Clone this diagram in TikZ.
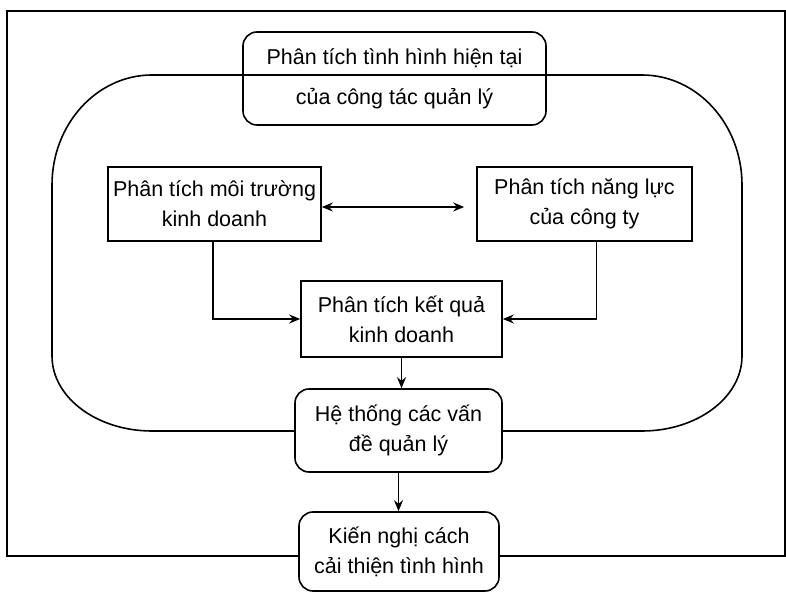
\documentclass[tikz,border=0pt]{standalone}
\usepackage{fontspec}
\setmainfont{Liberation Sans}
\usetikzlibrary{arrows.meta}
\begin{document}
\begin{tikzpicture}[x=1pt,y=1pt,
  line width=1.6pt,
  txt/.style={font=\fontsize{21.5}{30}\selectfont, align=center, inner sep=0pt},
  sqbox/.style={txt, draw, fill=white, minimum width=#1},
  rbox/.style={txt, draw, rounded corners=14pt, minimum width=#1},
  arr/.style={-{Stealth[length=11pt,width=9pt]}},
  darr/.style={{Stealth[length=11pt,width=9pt]}-{Stealth[length=11pt,width=9pt]}}
]
\useasboundingbox (0,0) rectangle (786,594);
% outer frame
\draw[line width=1.8pt] (7,583) rectangle (785,38);
% big loop
\draw (152,519) -- (642,519)
  arc[start angle=90,end angle=0,x radius=100,y radius=110]
  -- (742,238)
  arc[start angle=0,end angle=-90,x radius=100,y radius=75]
  -- (152,163)
  arc[start angle=270,end angle=180,x radius=100,y radius=75]
  -- (52,409)
  arc[start angle=180,end angle=90,x radius=100,y radius=110]
  -- cycle;
% nodes
\node[rbox=303pt, minimum height=93pt, font=\fontsize{21.5}{40}\selectfont] (top) at (394.5,515.5) {Phân tích tình hình hiện tại\\của công tác quản lý};
\node[sqbox=213pt, minimum height=74pt] (left) at (214.5,390) {Phân tích môi trường\\kinh doanh};
\node[sqbox=215pt, minimum height=74pt] (right) at (584.5,390) {Phân tích năng lực\\của công ty};
\node[sqbox=201pt, minimum height=76pt] (mid) at (401.5,275) {Phân tích kết quả\\kinh doanh};
\node[rbox=207pt, minimum height=83pt, fill=white] (sys) at (398.5,163.5) {Hệ thống các vấn\\đề quản lý};
\node[rbox=200pt, minimum height=79pt, fill=white] (rec) at (399,42.5) {Kiến nghị cách\\cải thiện tình hình};
% connectors
\draw[darr] ([yshift=-3pt]left.east) -- ([xshift=-12pt,yshift=-3pt]right.west);
\draw[arr] ([xshift=-1.5pt]left.south) |- (mid.west);
\draw[arr] ([xshift=12pt]right.south) |- (mid.east);
\draw[arr] (mid.south) -- (mid.south |- sys.north);
\draw[arr] (sys.south) -- (sys.south |- rec.north);
\end{tikzpicture}
\end{document}
